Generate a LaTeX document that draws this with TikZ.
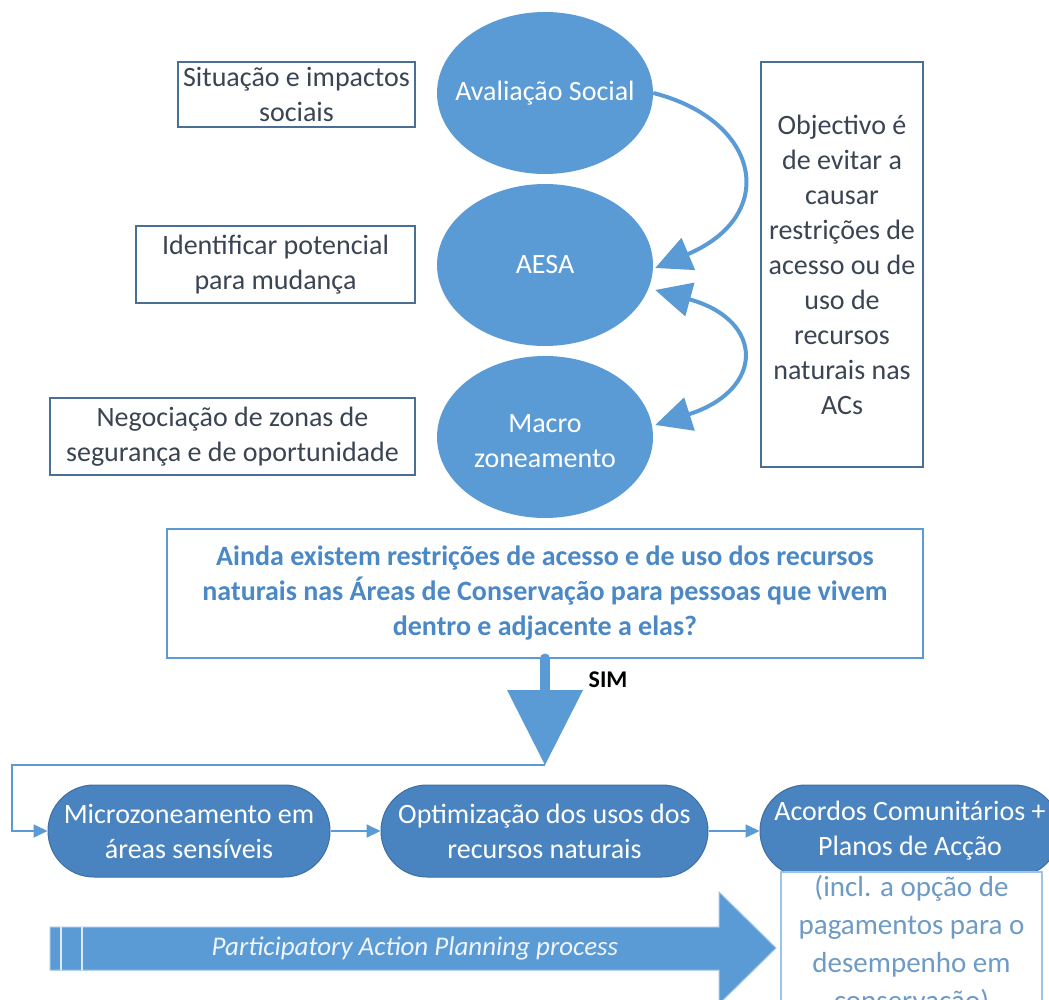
\documentclass[tikz,border=0pt]{standalone}
\usepackage{fontspec}
\setmainfont{Carlito}
\usetikzlibrary{arrows.meta,shapes.geometric,calc}

\definecolor{ellblue}{HTML}{5B9BD5}
\definecolor{pillblue}{HTML}{4A84C0}
\definecolor{pilledge}{HTML}{3D6FA3}
\definecolor{boxedge}{HTML}{4A6F94}
\definecolor{darktext}{HTML}{3A4452}
\definecolor{qtext}{HTML}{4A88C6}
\definecolor{notetext}{HTML}{6E9BC6}
\definecolor{noteedge}{HTML}{9DC3E6}

\tikzset{
  txt/.style={font=\fontsize{28}{35}\selectfont, align=center, inner sep=0pt},
  stage/.style={ellipse, fill=ellblue, minimum width=216pt, minimum height=162pt, inner sep=0pt},
  stagetext/.style={txt, text=white},
  sidebox/.style={txt, draw=boxedge, line width=1.6pt, text=darktext, fill=white},
  question/.style={txt, draw=ellblue, line width=2pt, text=qtext, font=\fontsize{28}{35}\selectfont\bfseries},
  pill/.style={txt, rectangle, rounded corners=46pt, fill=pillblue, draw=pilledge, line width=1pt,
               minimum height=92pt, text=white},
  note/.style={txt, draw=noteedge, line width=1.4pt, fill=white, text=notetext,
               font=\fontsize{29}{38}\selectfont},
  curvelink/.style={draw=ellblue, line width=4pt, -{Triangle[length=36pt,width=34pt]}},
  flow/.style={draw=ellblue, line width=2pt, -{Triangle[length=14pt,width=13pt]}},
}

\begin{document}
\begin{tikzpicture}[x=1pt,y=-1pt]
\clip (0,0) rectangle (1049,1000);
\fill[white] (0,0) rectangle (1049,1000);

% three stages of the upper cycle
\node[stage] (avs) at (545,93) {};
\node[stagetext] (avs-t) at (avs) {Avaliação Social};
\node[stage] (aesa) at (545,265) {};
\node[stagetext] (aesa-t) at (aesa) {AESA};
\node[stage] (macro) at (545,437) {};
\node[stagetext] (macro-t) at ($(macro)+(0,4)$) {Macro\\zoneamento};

% descriptions on the left
\node[sidebox, minimum width=237pt, minimum height=65pt] (d1) at (296.5,94.5) {Situação e impactos\\sociais};
\node[sidebox, minimum width=279pt, minimum height=77pt] (d2) at (275.5,264.5) {Identificar potencial\\para mudança};
\node[sidebox, minimum width=365pt, minimum height=77pt] (d3) at (232.5,436.5) {Negociação de zonas de\\segurança e de oportunidade};

% objective box on the right
\node[sidebox, minimum width=162pt, minimum height=405pt] (obj) at (842,264.5)
  {Objectivo é\\de evitar a\\causar\\restrições de\\acesso ou de\\uso de\\recursos\\naturais nas\\ACs};

% curved links between the stages
\draw[curvelink] (avs.east) .. controls (760,120) and (780,215) .. ($(aesa.east)+(2,3)$);
\draw[curvelink, {Triangle[length=36pt,width=34pt]}-{Triangle[length=36pt,width=34pt]}]
  ($(aesa.east)+(2,25)$) .. controls (765,320) and (765,390) .. ($(macro.east)+(2,-12)$);

% central question
\node[question, minimum width=756pt, minimum height=129pt] (q) at (545,593)
  {Ainda existem restrições de acesso e de uso dos recursos\\naturais nas Áreas de Conservação para pessoas que vivem\\dentro e adjacente a elas?};

% "SIM" block arrow
\coordinate (simtip) at (545,765);
\coordinate (loopx) at (12,765);
\draw[ellblue, line width=10pt, line cap=round] (q.south) -- ($(q.south)+(0,36)$);
\fill[ellblue] ($(simtip)+(-38,-75)$) -- ($(simtip)+(38,-75)$) -- (simtip) -- cycle;
\node[font=\fontsize{24}{28}\selectfont\bfseries, inner sep=0pt] (sim) at (608,680) {SIM};

% lower process chain
\node[pill, minimum width=282pt] (micro) at (189,831) {Microzoneamento em\\áreas sensíveis};
\node[pill, minimum width=327pt] (optim) at (544.5,831) {Optimização dos usos dos\\recursos naturais};
\node[pill, minimum width=300pt] (acord) at (910,831) {Acordos Comunitários +\\Planos de Acção};

\draw[flow] (simtip) -- (loopx) |- (micro.west);
\draw[flow] (micro.east) -- (optim.west);
\draw[flow] (optim.east) -- (acord.west);

% participatory planning block arrow
\fill[ellblue, draw=noteedge, line width=1pt]
  (50,927) -- (719,927) -- (719,892) -- (776,948) -- (719,1004) -- (719,970) -- (50,970) -- cycle;
\draw[white!80!ellblue, line width=1.5pt] (61,927) -- (61,970) (82,927) -- (82,970);
\node[font=\fontsize{27}{32}\selectfont\itshape, text=white!90!ellblue, inner sep=0pt] (pap) at (415,948)
  {Participatory Action Planning process};

% note under the last step
\node[note, minimum width=261pt, minimum height=146pt] (note) at (911.5,945)
  {(incl. a opção de\\pagamentos para o\\desempenho em\\conservação)};
\end{tikzpicture}
\end{document}
